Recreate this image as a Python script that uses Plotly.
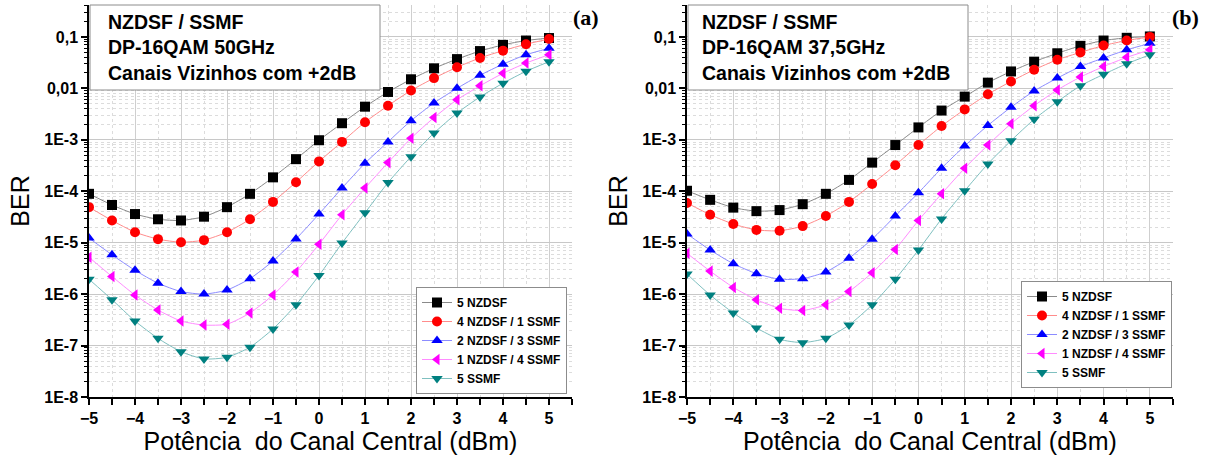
import plotly.graph_objects as go
from plotly.subplots import make_subplots

power = [-5, -4.5, -4, -3.5, -3, -2.5, -2, -1.5, -1, -0.5, 0, 0.5, 1, 1.5, 2, 2.5, 3, 3.5, 4, 4.5, 5]

series_names = ["5 NZDSF", "4 NZDSF / 1 SSMF", "2 NZDSF / 3 SSMF", "1 NZDSF / 4 SSMF", "5 SSMF"]

# Panel (a): DP-16QAM 50GHz
a_5nzdsf = [8.9e-5, 5.4e-5, 3.6e-5, 2.85e-5, 2.7e-5, 3.2e-5, 4.9e-5, 8.9e-5, 1.86e-4, 4.2e-4, 9.8e-4,
            2.1e-3, 4.4e-3, 8.5e-3, 0.015, 0.0245, 0.037, 0.053, 0.07, 0.085, 0.095]
a_4n1s = [4.9e-5, 2.7e-5, 1.6e-5, 1.17e-5, 1.02e-5, 1.12e-5, 1.6e-5, 2.85e-5, 6.2e-5, 1.5e-4, 3.8e-4,
          9.1e-4, 2.2e-3, 4.6e-3, 9.1e-3, 0.0158, 0.0257, 0.039, 0.054, 0.072, 0.091]
a_2n3s = [1.23e-5, 5.8e-6, 2.9e-6, 1.63e-6, 1.12e-6, 1.0e-6, 1.2e-6, 2.0e-6, 4.4e-6, 1.18e-5, 3.6e-5,
          1.15e-4, 3.5e-4, 9.1e-4, 2.35e-3, 5.2e-3, 0.010, 0.018, 0.0295, 0.045, 0.06]
a_1n4s = [5.2e-6, 2.2e-6, 9.6e-7, 4.9e-7, 3.0e-7, 2.5e-7, 2.6e-7, 4.3e-7, 9.6e-7, 2.7e-6, 9.3e-6,
          3.5e-5, 1.15e-4, 3.6e-4, 1.07e-3, 2.7e-3, 6.0e-3, 0.0112, 0.0196, 0.031, 0.045]
a_5ssmf = [1.95e-6, 7.8e-7, 3.0e-7, 1.38e-7, 7.6e-8, 5.5e-8, 5.9e-8, 9.3e-8, 2.1e-7, 6.2e-7, 2.3e-6,
           9.8e-6, 3.8e-5, 1.47e-4, 4.7e-4, 1.35e-3, 3.3e-3, 6.8e-3, 0.0126, 0.0214, 0.033]

# Panel (b): DP-16QAM 37,5GHz
b_5nzdsf = [1.02e-4, 6.8e-5, 4.8e-5, 4.1e-5, 4.3e-5, 5.6e-5, 8.9e-5, 1.66e-4, 3.6e-4, 7.9e-4, 1.74e-3,
            3.7e-3, 6.9e-3, 0.0129, 0.0213, 0.033, 0.048, 0.067, 0.085, 0.096, 0.102]
b_4n1s = [5.9e-5, 3.5e-5, 2.3e-5, 1.77e-5, 1.7e-5, 2.1e-5, 3.3e-5, 6.2e-5, 1.38e-4, 3.2e-4, 7.9e-4,
          1.85e-3, 3.9e-3, 7.7e-3, 0.0136, 0.023, 0.036, 0.050, 0.068, 0.085, 0.10]
b_2n3s = [1.48e-5, 7.2e-6, 3.9e-6, 2.5e-6, 1.95e-6, 2.0e-6, 2.7e-6, 5.0e-6, 1.17e-5, 3.3e-5, 9.3e-5,
          2.8e-4, 7.6e-4, 1.9e-3, 4.3e-3, 8.9e-3, 0.0158, 0.0265, 0.039, 0.056, 0.075]
b_1n4s = [6.2e-6, 2.8e-6, 1.35e-6, 7.8e-7, 5.3e-7, 4.8e-7, 6.2e-7, 1.12e-6, 2.6e-6, 7.4e-6, 2.7e-5,
          8.9e-5, 2.8e-4, 7.9e-4, 2.05e-3, 4.6e-3, 9.3e-3, 0.0166, 0.0265, 0.040, 0.056]
b_5ssmf = [2.45e-6, 9.6e-7, 4.3e-7, 2.2e-7, 1.32e-7, 1.14e-7, 1.38e-7, 2.5e-7, 6.2e-7, 1.95e-6, 7.2e-6,
           2.9e-5, 1.02e-4, 3.4e-4, 9.6e-4, 2.5e-3, 5.5e-3, 0.0112, 0.0187, 0.030, 0.045]

ytick_vals = [1e-8, 1e-7, 1e-6, 1e-5, 1e-4, 1e-3, 1e-2, 1e-1]
ytick_text = ["1E-8", "1E-7", "1E-6", "1E-5", "1E-4", "1E-3", "0,01", "0,1"]

marker_colors = ["#000000", "#FF0000", "#0000FF", "#FF00FF", "#008080"]
line_colors = ["#8a8a8a", "#FF8C8C", "#8C8CFF", "#FF8CFF", "#7FC0C0"]
symbols = ["square", "circle", "triangle-up", "triangle-left", "triangle-down"]

panel_a = [a_5nzdsf, a_4n1s, a_2n3s, a_1n4s, a_5ssmf]
panel_b = [b_5nzdsf, b_4n1s, b_2n3s, b_1n4s, b_5ssmf]

fig = make_subplots(rows=1, cols=2)

for col, panel in ((1, panel_a), (2, panel_b)):
    for i, ys in enumerate(panel):
        fig.add_trace(go.Scatter(
            x=power, y=ys, mode="lines+markers", name=series_names[i],
            line=dict(color=line_colors[i], width=1, shape="spline", smoothing=0.6),
            marker=dict(symbol=symbols[i], color=marker_colors[i], size=10,
                        line=dict(width=0)),
            legend="legend" if col == 1 else "legend2",
            showlegend=True,
        ), row=1, col=col)

W, H = 1205, 458
y_dom = [1 - 397 / H, 1 - 5 / H]
x_doms = [[89 / W, 572 / W], [687 / W, 1173 / W]]

FONT = "Arial, Liberation Sans, sans-serif"
title_font = dict(family=FONT, size=25, color="#000000")

for col in (1, 2):
    fig.update_xaxes(
        domain=x_doms[col - 1], range=[-5, 5.5], tickmode="linear", tick0=-5, dtick=1,
        ticks="outside", ticklen=6, tickwidth=1.5, tickcolor="#000",
        showline=True, linecolor="#000", linewidth=1.5, mirror=False,
        showgrid=True, gridcolor="#cfcfcf", gridwidth=1,
        minor=dict(dtick=0.5, tick0=-5, ticks="outside", ticklen=6, tickwidth=1.5, tickcolor="#000",
                   showgrid=True, gridcolor="#dcdcdc", griddash="dot", gridwidth=1),
        tickfont=dict(family=FONT, size=16, color="#000", weight="bold"),
        title=dict(text="Potência  do Canal Central (dBm)", font=title_font, standoff=2),
        zeroline=False, automargin=False,
        row=1, col=col)
    fig.update_yaxes(
        domain=y_dom, type="log", range=[-8, -0.38],
        tickmode="array", tickvals=ytick_vals, ticktext=ytick_text,
        ticks="outside", ticklen=6, tickwidth=1.5, tickcolor="#000",
        showline=True, linecolor="#000", linewidth=1.5, mirror=False,
        showgrid=True, gridcolor="#c8c8c8", gridwidth=1,
        minor=dict(dtick="D1", ticks="outside", ticklen=3, tickwidth=1, tickcolor="#000",
                   showgrid=True, gridcolor="#dcdcdc", griddash="dot", gridwidth=1),
        tickfont=dict(family=FONT, size=16, color="#000", weight="bold"),
        title=dict(text="BER", font=title_font, standoff=8),
        zeroline=False, automargin=False,
        row=1, col=col)

# Info boxes (frame as shapes, text as annotations)
box_font = dict(family=FONT, size=19.5, color="#000", weight="bold")
box_texts = ["NZDSF / SSMF<br>DP-16QAM 50GHz<br>Canais Vizinhos com +2dB",
             "NZDSF / SSMF<br>DP-16QAM 37,5GHz<br>Canais Vizinhos com +2dB"]
box_frames = [(90, 380), (688, 968)]
text_x = [106, 700]
for k in range(2):
    x0, x1 = box_frames[k]
    fig.add_shape(type="rect", xref="paper", yref="paper",
                  x0=x0 / W, x1=x1 / W, y0=1 - 90 / H, y1=1 - 5 / H,
                  fillcolor="#ffffff", line=dict(color="#8c8c8c", width=1), layer="above")
    fig.add_annotation(
        xref="paper", yref="paper", x=text_x[k] / W, y=1 - 47.5 / H, xanchor="left", yanchor="middle",
        text=box_texts[k], showarrow=False, align="left", font=box_font)

label_font = dict(family="Times New Roman, Liberation Serif, serif", size=22, color="#000", weight="bold")
fig.add_annotation(xref="paper", yref="paper", x=586 / W, y=1 - 18 / H, text="(a)", showarrow=False,
                   font=label_font, xanchor="center", yanchor="middle")
fig.add_annotation(xref="paper", yref="paper", x=1185 / W, y=1 - 18 / H, text="(b)", showarrow=False,
                   font=label_font, xanchor="center", yanchor="middle")

leg_common = dict(
    bgcolor="#ffffff", bordercolor="#8c8c8c", borderwidth=1,
    font=dict(family=FONT, size=12, color="#000", weight="bold"),
    xanchor="right", yanchor="bottom", tracegroupgap=0, itemwidth=30,
)
fig.update_layout(
    width=W, height=H,
    margin=dict(l=0, r=0, t=0, b=0),
    paper_bgcolor="#ffffff", plot_bgcolor="#ffffff",
    legend=dict(x=567 / W, y=1 - 394 / H, **leg_common),
    legend2=dict(x=1172 / W, y=1 - 388 / H, **leg_common),
)

fig.write_html("out.html", config={"displayModeBar": False},
               post_script="document.body.style.margin='0px';document.body.style.overflow='hidden';")
